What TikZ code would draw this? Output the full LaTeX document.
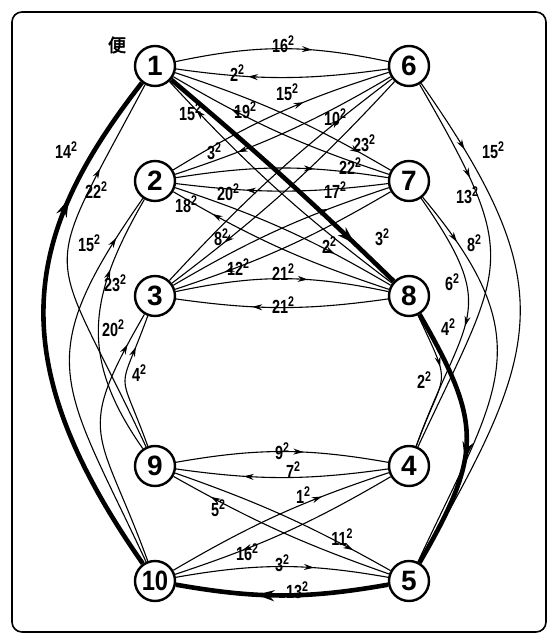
\documentclass[tikz,border=0pt]{standalone}
\usepackage{fontspec}
\setmainfont{Liberation Sans}
\newfontfamily\cjk[AutoFakeBold=3]{Noto Sans CJK JP}
\usetikzlibrary{arrows.meta,decorations.markings}
\newcommand\lblsq[1]{\scalebox{0.76}[1]{#1\raisebox{7pt}{\fontsize{14}{14}\selectfont 2}}}
\tikzset{
  vtx/.style={circle, draw, line width=2.4pt, minimum size=40pt, inner sep=0pt, fill=white,
    font=\fontsize{28}{28}\selectfont\bfseries},
  ln/.style={line width=1.1pt},
  thk/.style={line width=4.6pt},
  arr/.style={postaction={decorate}, decoration={markings,
    mark=at position #1 with {\arrow{Stealth[length=10pt,width=6pt]}}}},
  arrT/.style={postaction={decorate}, decoration={markings,
    mark=at position #1 with {\arrow{Stealth[length=18pt,width=11pt]}}}},
  lbl/.style={font=\fontsize{19}{19}\selectfont\bfseries, inner sep=0pt},
}
\begin{document}
\begin{tikzpicture}[x=1pt,y=1pt]
\useasboundingbox (0,0) rectangle (555,640);
\draw[line width=1.6pt, rounded corners=10pt] (12,8) rectangle (546,628);

\node[vtx] (n1) at (155,574) {1};
\node[vtx] (n6) at (409,574) {6};
\node[vtx] (n2) at (155,459) {2};
\node[vtx] (n7) at (409,459) {7};
\node[vtx] (n3) at (155,344) {3};
\node[vtx] (n8) at (409,344) {8};
\node[vtx] (n9) at (155,174) {9};
\node[vtx] (n4) at (409,174) {4};
\node[vtx] (n10) at (155,59) {\scalebox{0.85}[1]{10}};
\node[vtx] (n5) at (409,59) {5};

\node[font=\cjk\bfseries\fontsize{18}{18}\selectfont, inner sep=0pt] (bian) at (117,595) {便};

% top group
\draw[ln,arr=0.64] (n1) to[bend left=12] (n6);
\draw[ln,arr=0.66] (n6) to[bend left=8] (n1);
\draw[ln,arr=0.85] (n1) to[bend left=6] (n7);
\draw[ln,arr=0.72] (n7) to[bend left=6] (n1);
\draw[thk,arrT=0.82] (n1) to[bend left=2] (n8);
\draw[ln,arr=0.87] (n8) to[bend left=5] (n1);
\draw[ln,arr=0.62] (n2) to[bend left=7] (n6);
\draw[ln,arr=0.78] (n3) to[bend left=5] (n6);
\draw[ln,arr=0.72] (n6) to[bend left=6] (n2);
\draw[ln,arr=0.65] (n2) to[bend left=9] (n7);
\draw[ln,arr=0.67] (n7) to[bend left=7] (n2);
\draw[ln,arr=0.73] (n3) to[bend left=6] (n7);
\draw[ln,arr=0.78] (n7) to[bend left=6] (n3);
\draw[ln,arr=0.81] (n8) to[bend left=6] (n2);
\draw[ln,arr=0.73] (n2) to[bend left=6] (n8);
\draw[ln,arr=0.78] (n6) to[bend left=5] (n3);
\draw[ln,arr=0.62] (n3) to[bend left=12] (n8);
\draw[ln,arr=0.64] (n8) to[bend left=8] (n3);

% bottom group
\draw[ln,arr=0.6] (n9) to[bend left=10] (n4);
\draw[ln,arr=0.68] (n4) to[bend left=8] (n9);
\draw[ln,arr=0.7] (n10) to[bend left=6] (n4);
\draw[ln,arr=0.7] (n4) to[bend left=6] (n10);
\draw[ln,arr=0.82] (n9) to[bend left=5] (n5);
\draw[ln,arr=0.82] (n5) to[bend left=5] (n9);
\draw[ln,arr=0.65] (n10) to[bend left=10] (n5);
\draw[thk,arrT=0.62] (n5) to[bend left=10] (n10);

% right arcs
\draw[ln,arr=0.15] (n6) to[out=-55,in=60,looseness=1.32] (n5);
\draw[ln,arr=0.27] (n6) to[out=-60,in=65,looseness=1.46] (n4);
\draw[ln,arr=0.14] (n7) to[out=-50,in=65,looseness=1.33] (n5);
\draw[ln,arr=0.52] (n7) to[out=-55,in=70,looseness=1.46] (n4);
\draw[thk,arrT=0.58] (n8) to[out=-60,in=60,looseness=1.3] (n5);
\draw[ln,arr=0.4] (n8) to[out=-65,in=70,looseness=1.65] (n4);

% left arcs
\draw[thk,arrT=0.74] (n10) to[out=125,in=-128,out distance=255pt,in distance=190pt] (n1);
\draw[ln,arr=0.76] (n9) to[out=115,in=-118,looseness=1.65] (n1);
\draw[ln,arr=0.88] (n10) to[out=115,in=-125,looseness=1.4] (n2);
\draw[ln,arr=0.71] (n9) to[out=125,in=-120,looseness=1.15] (n2);
\draw[ln,arr=0.87] (n10) to[out=110,in=-120,looseness=1.48] (n3);
\draw[ln,arr=0.76] (n9) to[out=110,in=-110,looseness=1.75] (n3);

% labels: top
\node[lbl] (l01) at (283,596) {\lblsq{16}};
\node[lbl] (l02) at (237,567) {\lblsq{2}};
\node[lbl] (l03) at (287,548) {\lblsq{15}};
\node[lbl] (l04) at (245,530) {\lblsq{19}};
\node[lbl] (l05) at (190,528) {\lblsq{15}};
\node[lbl] (l06) at (335,523) {\lblsq{10}};
\node[lbl] (l07) at (364,497) {\lblsq{23}};
\node[lbl] (l08) at (214,489) {\lblsq{3}};
\node[lbl] (l09) at (350,474) {\lblsq{22}};
\node[lbl] (l10) at (228,448) {\lblsq{20}};
\node[lbl] (l11) at (335,450) {\lblsq{17}};
\node[lbl] (l12) at (186,436) {\lblsq{18}};
\node[lbl] (l13) at (221,403) {\lblsq{8}};
\node[lbl] (l14) at (329,395) {\lblsq{2}};
\node[lbl] (l15) at (382,403) {\lblsq{3}};
\node[lbl] (l16) at (238,373) {\lblsq{12}};
\node[lbl] (l17) at (283,368) {\lblsq{21}};
\node[lbl] (l18) at (283,335) {\lblsq{21}};
% labels: right
\node[lbl] (r1) at (493,490) {\lblsq{15}};
\node[lbl] (r2) at (467,445) {\lblsq{13}};
\node[lbl] (r3) at (474,397) {\lblsq{8}};
\node[lbl] (r4) at (452,358) {\lblsq{6}};
\node[lbl] (r5) at (448,313) {\lblsq{4}};
\node[lbl] (r6) at (424,260) {\lblsq{2}};
% labels: left
\node[lbl] (q1) at (66,490) {\lblsq{14}};
\node[lbl] (q2) at (96,450) {\lblsq{22}};
\node[lbl] (q3) at (89,397) {\lblsq{15}};
\node[lbl] (q4) at (115,357) {\lblsq{23}};
\node[lbl] (q5) at (113,312) {\lblsq{20}};
\node[lbl] (q6) at (139,267) {\lblsq{4}};
% labels: bottom
\node[lbl] (b1) at (282,189) {\lblsq{9}};
\node[lbl] (b2) at (293,170) {\lblsq{7}};
\node[lbl] (b3) at (303,145) {\lblsq{1}};
\node[lbl] (b4) at (218,132) {\lblsq{5}};
\node[lbl] (b5) at (342,103) {\lblsq{11}};
\node[lbl] (b6) at (247,88) {\lblsq{16}};
\node[lbl] (b7) at (282,77) {\lblsq{3}};
\node[lbl] (b8) at (297,50) {\lblsq{13}};
\end{tikzpicture}
\end{document}
